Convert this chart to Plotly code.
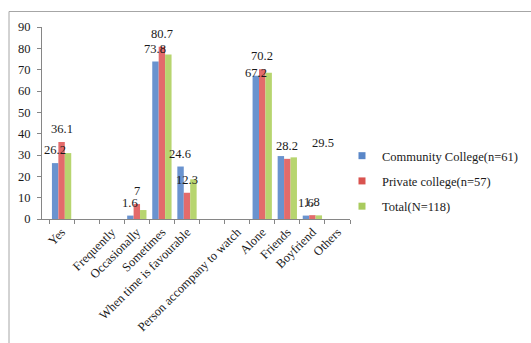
import plotly.graph_objects as go

categories = ["Yes", "\u200b", "Frequently", "Occasionally", "Sometimes",
              "When time is favourable", "\u200b\u200b", "Person accompany to watch",
              "Alone", "Friends", "Boyfriend", "Others"]
series_names = ["Community College(n=61)", "Private college(n=57)", "Total(N=118)"]
community = [26.2, None, None, 1.6, 73.8, 24.6, None, None, 67.2, 29.5, 1.6, None]
private = [36.1, None, None, 7.0, 80.7, 12.3, None, None, 70.2, 28.2, 1.8, None]
total = [30.9, None, None, 4.2, 77.1, 18.6, None, None, 68.6, 28.9, 1.7, None]
y_ticks = [0, 10, 20, 30, 40, 50, 60, 70, 80, 90]

# data labels shown in the chart: (category index, series index)
label_points = [(0, 0), (0, 1), (3, 0), (3, 1), (4, 0), (4, 1), (5, 0), (5, 1),
                (8, 0), (8, 1), (9, 1), (9, 0), (10, 0), (10, 1)]

bar_colors = ["#6A93CF", "#E36B6B", "#B7D56F"]
legend_colors = ["#5A87C8", "#D9534F", "#A9CB5E"]
FONT = "Liberation Serif"
FS = 12.5

all_series = [community, private, total]
fig = go.Figure()
for name, vals, col in zip(series_names, all_series, bar_colors):
    fig.add_trace(go.Bar(x=categories, y=vals, name=name, marker=dict(color=col, line=dict(width=0)),
                         showlegend=False))
for i, (name, col) in enumerate(zip(series_names, legend_colors)):
    fig.add_trace(go.Scatter(x=[None], y=[None], mode="markers", name=name,
                             legendgroup=str(i),
                             marker=dict(symbol="square", size=7, color=col)))

plot_w = 308
slot_px = plot_w / len(categories)
bargap = 0.23
bar_px = slot_px * (1 - bargap) / 3
special_shift = {(9, 0): (42, 0), (8, 0): (0, -10)}

def fmt(v):
    s = ("%.1f" % v)
    return s[:-2] if s.endswith(".0") else s

for ci, si in label_points:
    v = all_series[si][ci]
    dx, dy = special_shift.get((ci, si), (0, 0))
    fig.add_annotation(x=categories[ci], y=v, text=fmt(v), showarrow=False,
                       xref="x", yref="y", yanchor="middle",
                       xshift=(si - 1) * bar_px + dx, yshift=13 + dy,
                       font=dict(family=FONT, size=FS, color="#1a1a1a"))

fig.add_shape(type="rect", xref="paper", yref="paper",
              x0=(9 - 42) / plot_w, x1=3, y0=-3, y1=(219 - 11.5) / 192,
              line=dict(color="#A6A6A6", width=1), fillcolor="rgba(0,0,0,0)", layer="below")

fig.update_layout(
    template="none",
    width=531, height=343,
    margin=dict(l=42, r=181, t=27, b=124, autoexpand=False),
    paper_bgcolor="white", plot_bgcolor="white",
    barmode="group", bargap=bargap, bargroupgap=0,
    font=dict(family=FONT, size=FS, color="#1a1a1a"),
    showlegend=True,
    legend=dict(x=0.974, xanchor="left", y=0.406, yanchor="top",
                font=dict(family=FONT, size=FS, color="#1a1a1a"),
                tracegroupgap=6, bgcolor="rgba(0,0,0,0)", itemwidth=30),
    xaxis=dict(type="category", categoryorder="array", categoryarray=categories,
               automargin=False,
               tickangle=-45, tickson="boundaries", ticks="outside", ticklen=4,
               tickcolor="#868686", showline=True, linecolor="#868686", linewidth=1,
               showgrid=False, zeroline=False,
               tickfont=dict(family=FONT, size=FS, color="#1a1a1a")),
    yaxis=dict(range=[0, 90], tickvals=y_ticks, ticks="outside", ticklen=4,
               automargin=False,
               tickcolor="#868686", showline=True, linecolor="#868686", linewidth=1,
               showgrid=False, zeroline=False, ticklabelstandoff=4,
               tickfont=dict(family=FONT, size=FS, color="#1a1a1a")),
)

fig.write_html("out.html")
